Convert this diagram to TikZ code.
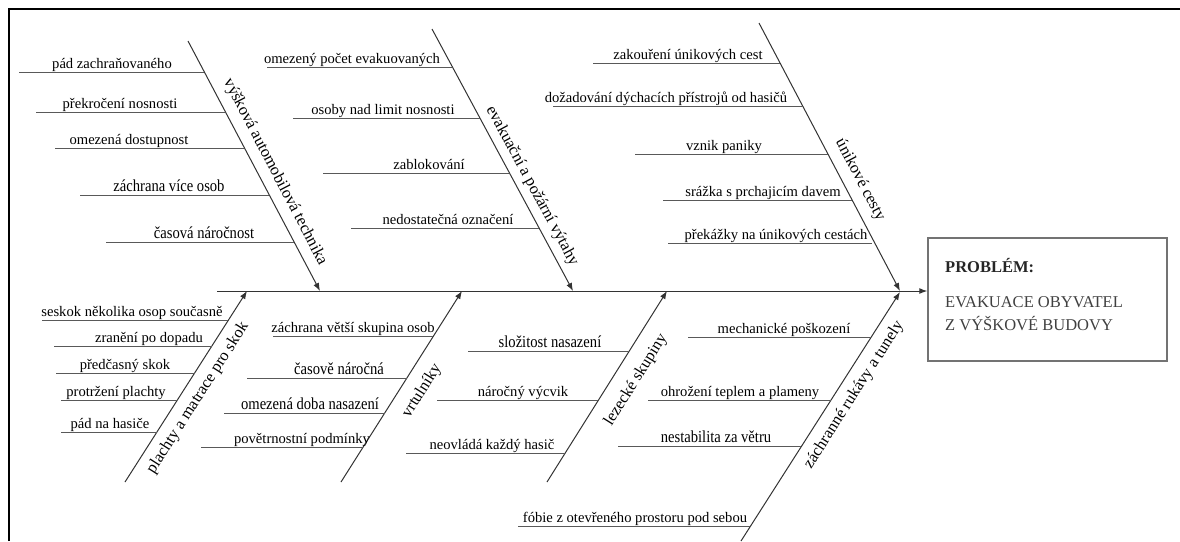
\documentclass[tikz,border=0pt]{standalone}
\usepackage{fontspec}
\setmainfont{Liberation Serif}
\usetikzlibrary{arrows.meta}

\tikzset{
  branch/.style={line width=1pt, draw=black!80, -{Latex[length=8pt,width=6pt]}},
  rib/.style={line width=1pt, draw=black!65},
  ribtext/.style={anchor=base, yshift=4pt, inner sep=0pt, font=\fontsize{14.6}{16}\selectfont},
  tall/.style={yscale=1.15},
  cause/.style={inner sep=0pt, font=\fontsize{16.3}{18}\selectfont},
  probbox/.style={draw=black!55, line width=1.5pt, minimum width=239pt, minimum height=123pt, inner sep=0pt},
  probtext/.style={anchor=base west, inner sep=0pt, text=black!75, font=\fontsize{16.5}{19}\selectfont},
  probtitle/.style={anchor=base west, inner sep=0pt, text=black!85, font=\fontsize{16.5}{19}\selectfont\bfseries}
}

\begin{document}
\begin{tikzpicture}[x=1pt, y=-1pt]
			%%%%% FRAME %%%%%
			\useasboundingbox (0,0) rectangle (1180,541);
			\draw[line width=2pt] (9,541) -- (9,9) -- (1180,9);
			
			%%%%% PROBLEM %%%%%
			\node[probbox] (problem) at (1047.5,299.5) {};
			\node[probtitle] (ptitle) at (945,272) {PROBLÉM:};
			\node[probtext] (pline1) at (945,307) {EVAKUACE OBYVATEL};
			\node[probtext] (pline2) at (945,330) {Z VÝŠKOVÉ BUDOVY};
			
			\coordinate (tail) at (217,291);
			\draw[branch] (tail) -- (tail -| problem.west);
			
			%%%%% UPPER BRANCHES %%%%%
			\coordinate (b1s) at (188,41);
			\coordinate (b1e) at (320,291);
			\draw[branch] (b1s) -- (b1e);
			\node[cause, rotate=-62.5] (l1) at (275,172) {výšková automobilová technika};
			
			\draw[rib] (19,72) -- (204,72);
			\node[ribtext] (c11) at (112,72) {pád zachraňovaného};
			\draw[rib] (36,112) -- (225,112);
			\node[ribtext] (c12) at (120,112) {překročení nosnosti};
			\draw[rib] (55,148) -- (244,148);
			\node[ribtext] (c13) at (129,148) {omezená dostupnost};
			\draw[rib] (80,195) -- (269,195);
			\node[ribtext, tall] (c14) at (169,195) {záchrana více osob};
			\draw[rib] (106,242) -- (294,242);
			\node[ribtext, tall] (c15) at (204,242) {časová náročnost};
			
			\coordinate (b2s) at (432,29);
			\coordinate (b2e) at (573,291);
			\draw[branch] (b2s) -- (b2e);
			\node[cause, rotate=-61.7] (l2) at (532,186) {evakuační a požární výtahy};
			
			\draw[rib] (267,67) -- (452,67);
			\node[ribtext] (c21) at (352,67) {omezený počet evakuovaných};
			\draw[rib] (293,118) -- (480,118);
			\node[ribtext] (c22) at (383,118) {osoby nad limit nosnosti};
			\draw[rib] (323,173) -- (509,173);
			\node[ribtext] (c23) at (429,173) {zablokování};
			\draw[rib] (351,228) -- (539,228);
			\node[ribtext] (c24) at (448,228) {nedostatečná označení};
			
			\coordinate (b3s) at (759,23);
			\coordinate (b3e) at (900,291);
			\draw[branch] (b3s) -- (b3e);
			\node[cause, rotate=-62.2] (l3) at (860,180) {únikové cesty};
			
			\draw[rib] (593,63) -- (780,63);
			\node[ribtext] (c31) at (688,63) {zakouření únikových cest};
			\draw[rib] (553,106) -- (803,106);
			\node[ribtext] (c32) at (666,106) {dožadování dýchacích přístrojů od hasičů};
			\draw[rib] (635,154) -- (828,154);
			\node[ribtext] (c33) at (724,154) {vznik paniky};
			\draw[rib] (663,200) -- (852,200);
			\node[ribtext] (c34) at (763,200) {srážka s prchajicím davem};
			\draw[rib] (668,243) -- (872,243);
			\node[ribtext] (c35) at (776,243) {překážky na únikových cestách};
			
			%%%%% LOWER BRANCHES %%%%%
			\coordinate (b4s) at (125,482);
			\coordinate (b4e) at (247,291);
			\draw[branch] (b4s) -- (b4e);
			\node[cause, rotate=57.4] (l4) at (198,398) {plachty a matrace pro skok};
			
			\draw[rib] (42,320) -- (228,320);
			\node[ribtext] (c41) at (132,320) {seskok několika osop současně};
			\draw[rib] (54,346) -- (212,346);
			\node[ribtext] (c42) at (149,346) {zranění po dopadu};
			\draw[rib] (56,373) -- (195,373);
			\node[ribtext] (c43) at (125,373) {předčasný skok};
			\draw[rib] (61,400) -- (177,400);
			\node[ribtext] (c44) at (116,400) {protržení plachty};
			\draw[rib] (61,432) -- (157,432);
			\node[ribtext] (c45) at (110,432) {pád na hasiče};
			
			\coordinate (b5s) at (341,482);
			\coordinate (b5e) at (462,291);
			\draw[branch] (b5s) -- (b5e);
			\node[cause, rotate=57.6] (l5) at (422,391) {vrtulníky};
			
			\draw[rib] (273,336) -- (433,336);
			\node[ribtext] (c51) at (353,336) {záchrana větší skupina osob};
			\draw[rib] (247,378) -- (407,378);
			\node[ribtext, tall] (c52) at (339,378) {časově náročná};
			\draw[rib] (224,413) -- (385,413);
			\node[ribtext, tall] (c53) at (310,413) {omezená doba nasazení};
			\draw[rib] (201,447) -- (363,447);
			\node[ribtext] (c54) at (302,447) {povětrnostní podmínky};
			
			\coordinate (b6s) at (547,482);
			\coordinate (b6e) at (667,291);
			\draw[branch] (b6s) -- (b6e);
			\node[cause, rotate=57.9] (l6) at (636,380) {lezecké skupiny};
			
			\draw[rib] (468,351) -- (629,351);
			\node[ribtext, tall] (c61) at (550,351) {složitost nasazení};
			\draw[rib] (437,400) -- (598,400);
			\node[ribtext] (c62) at (523,400) {náročný výcvik};
			\draw[rib] (406,453) -- (565,453);
			\node[ribtext] (c63) at (492,453) {neovládá každý hasič};
			
			\coordinate (b7s) at (741,541);
			\coordinate (b7e) at (900,292);
			\draw[branch] (b7s) -- (b7e);
			\node[cause, rotate=57.4] (l7) at (854,395) {záchranné rukávy a tunely};
			
			\draw[rib] (688,337) -- (871,337);
			\node[ribtext] (c71) at (784,337) {mechanické poškození};
			\draw[rib] (648,400) -- (831,400);
			\node[ribtext] (c72) at (740,400) {ohrožení teplem a plameny};
			\draw[rib] (618,446) -- (801,446);
			\node[ribtext, tall] (c73) at (716,446) {nestabilita za větru};
			\draw[rib] (518,526) -- (750,526);
			\node[ribtext] (c74) at (635,526) {fóbie z otevřeného prostoru pod sebou};
			
			%%%%% END %%%%%
\end{tikzpicture}
\end{document}
